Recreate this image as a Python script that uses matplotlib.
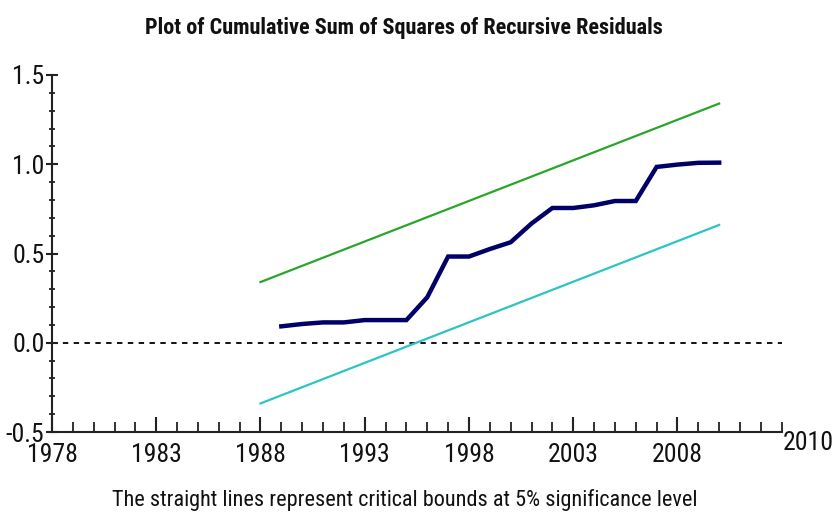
import matplotlib
matplotlib.use("Agg")
import matplotlib.pyplot as plt
from matplotlib.ticker import MultipleLocator
import matplotlib.transforms as mtransforms

plt.rcParams['font.family'] = ['Roboto Condensed', 'Archivo Narrow', 'DejaVu Sans']

# Data
years = [1989, 1990, 1991, 1992, 1993, 1994, 1995, 1996, 1997, 1998, 1999,
         2000, 2001, 2002, 2003, 2004, 2005, 2006, 2007, 2008, 2009, 2010]
cusumsq = [0.092, 0.105, 0.114, 0.114, 0.127, 0.127, 0.127, 0.255, 0.483, 0.483, 0.525,
           0.563, 0.668, 0.755, 0.755, 0.770, 0.794, 0.794, 0.985, 0.998, 1.008, 1.009]
bound_years = [1988, 2010]
upper_bound = [0.34, 1.34]
lower_bound = [-0.34, 0.66]
major_xticks = [1978, 1983, 1988, 1993, 1998, 2003, 2008]
yticks = [-0.5, 0.0, 0.5, 1.0, 1.5]

W, H = 834, 517
fig = plt.figure(figsize=(W / 100, H / 100), dpi=100)
left, right, top, bottom = 52, 781.7, 75, 432
ax = fig.add_axes([left / W, (H - bottom) / H, (right - left) / W, (bottom - top) / H])

ax.set_xlim(1978, 2013)
ax.set_ylim(-0.5, 1.5)

ax.axhline(0.0, color='black', lw=1.3, ls=(0, (3, 3)), zorder=1)
ax.plot(bound_years, upper_bound, color='#2aa52a', lw=1.6, zorder=2)
ax.plot(bound_years, lower_bound, color='#2cc4c4', lw=1.6, zorder=2)
ax.plot(years, cusumsq, color='#000066', lw=3.2, zorder=3, solid_joinstyle='miter')

for s in ['top', 'right']:
    ax.spines[s].set_visible(False)
for s in ['left', 'bottom']:
    ax.spines[s].set_linewidth(1.5)
    ax.spines[s].set_color('#222222')

ax.set_xticks(major_xticks)
ax.set_xticklabels([str(y) for y in major_xticks])
ax.xaxis.set_minor_locator(MultipleLocator(1))
ax.set_yticks(yticks)
ax.set_yticklabels(['%.1f' % v for v in yticks])
ax.yaxis.set_minor_locator(MultipleLocator(0.1))

ax.tick_params(axis='x', which='major', direction='in', length=11, width=1.5, pad=8,
               labelsize=18.5, colors='#222222', labelcolor='#111111')
ax.tick_params(axis='x', which='minor', direction='in', length=7, width=1.3, colors='#222222')
ax.tick_params(axis='y', which='major', direction='inout', length=9, width=1.5, pad=1,
               labelsize=18.5, colors='#222222', labelcolor='#111111')
ax.tick_params(axis='y', which='minor', direction='inout', length=5, width=1.3, colors='#222222')

trans = mtransforms.blended_transform_factory(ax.transData, ax.transAxes)
ax.text(2013 + 1.28, -11 / (bottom - top), '2010', transform=trans, ha='center', va='center',
        fontsize=18.5, color='#111111', clip_on=False)

fig.text(404 / W, 1 - 28 / H, 'Plot of Cumulative Sum of Squares of Recursive Residuals',
         ha='center', va='center', fontsize=16, fontweight='bold', color='#111111')
fig.text(405 / W, 1 - 500 / H, 'The straight lines represent critical bounds at 5% significance level',
         ha='center', va='center', fontsize=16, color='#111111')

fig.savefig('out.png', dpi=100)
